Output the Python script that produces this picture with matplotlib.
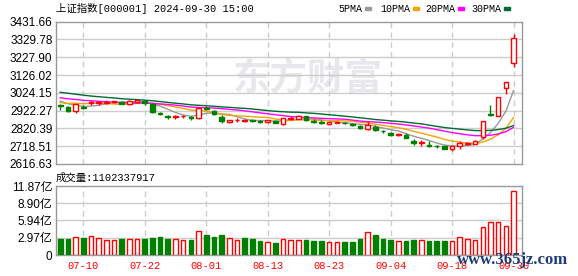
import numpy as np
import pandas as pd
import matplotlib
matplotlib.use('Agg')
import matplotlib.pyplot as plt
from matplotlib.patches import Rectangle

dates = ['07-05', '07-08', '07-09', '07-10', '07-11', '07-12', '07-15', '07-16', '07-17', '07-18',
         '07-19', '07-22', '07-23', '07-24', '07-25', '07-26', '07-29', '07-30', '07-31', '08-01',
         '08-02', '08-05', '08-06', '08-07', '08-08', '08-09', '08-12', '08-13', '08-14', '08-15',
         '08-16', '08-19', '08-20', '08-21', '08-22', '08-23', '08-26', '08-27', '08-28', '08-29',
         '08-30', '09-02', '09-03', '09-04', '09-05', '09-06', '09-09', '09-10', '09-11', '09-12',
         '09-13', '09-18', '09-19', '09-20', '09-23', '09-24', '09-25', '09-26', '09-27', '09-30']

opens = [2955, 2942, 2920, 2945, 2964, 2967, 2966, 2971, 2972, 2960,
         2973, 2978, 2958, 2906, 2890, 2883, 2889, 2884, 2879, 2935,
         2921, 2886, 2857, 2866, 2863, 2867, 2862, 2856, 2863, 2845,
         2872, 2876, 2890, 2864, 2858, 2843, 2852, 2853, 2846, 2834,
         2819, 2829, 2806, 2792, 2783, 2784, 2750, 2738, 2727, 2722,
         2717, 2704, 2718, 2733, 2733, 2771, 2901, 2893, 3050, 3195]
highs = [2958, 2948, 2961, 2954, 2976, 2979, 2981, 2980, 2980, 2985,
         2986, 2983, 2966, 2916, 2900, 2897, 2899, 2891, 2941, 2946,
         2924, 2896, 2871, 2880, 2874, 2876, 2869, 2871, 2870, 2880,
         2890, 2895, 2892, 2875, 2868, 2860, 2865, 2858, 2851, 2839,
         2863, 2838, 2813, 2800, 2796, 2793, 2757, 2752, 2747, 2728,
         2720, 2720, 2747, 2743, 2753, 2863.13, 2952, 3000.95, 3087.53, 3358.59]
lows = [2925, 2917, 2907, 2932, 2957, 2955, 2963, 2965, 2958, 2955,
        2966, 2957, 2911, 2895, 2877, 2877, 2882, 2871, 2877, 2925,
        2896, 2851, 2851, 2860, 2858, 2859, 2852, 2851, 2849, 2840,
        2869, 2873, 2865, 2852, 2846, 2841, 2850, 2845, 2833, 2815,
        2812, 2808, 2794, 2779, 2779, 2764, 2726, 2717, 2716, 2711,
        2702, 2689, 2702, 2725, 2730, 2761, 2889, 2889, 3017, 3170]
closes = [2949.93, 2922.45, 2959.37, 2939.36, 2970.39, 2971.30, 2974.01, 2976.30, 2962.92, 2977.13,
          2982.31, 2964.22, 2915.37, 2901.95, 2886.74, 2890.90, 2891.85, 2879.30, 2938.75, 2932.39,
          2905.34, 2860.70, 2867.28, 2869.90, 2869.83, 2862.19, 2858.20, 2867.95, 2850.65, 2877.36,
          2879.43, 2893.67, 2866.66, 2856.58, 2848.77, 2854.37, 2855.52, 2848.73, 2837.43, 2823.11,
          2842.21, 2811.04, 2802.98, 2784.28, 2788.22, 2765.81, 2736.49, 2744.19, 2721.80, 2717.12,
          2704.09, 2717.28, 2736.02, 2736.81, 2748.92, 2863.13, 2896.31, 3000.95, 3087.53, 3336.50]
# closes before 07-05, only used for the moving averages
pre_closes = [3088.87, 3124.04, 3109.57, 3111.02, 3091.68, 3086.81,
              3078.49, 3091.20, 3065.40, 3048.79, 3051.28, 3028.05, 3037.47, 3028.92, 3032.63,
              3015.89, 3030.25, 3018.05, 3005.44, 2998.14, 2963.10, 2950.00, 2972.53, 2945.85,
              2967.40, 2994.73, 2997.01, 2982.38, 2957.57]
# volume in 亿
volumes = [2.74, 2.74, 3.03, 2.91, 3.20, 2.86, 2.57, 2.57, 2.74, 2.74,
           2.74, 2.74, 2.91, 3.09, 2.74, 2.69, 2.57, 2.57, 4.11, 3.49,
           3.14, 3.49, 2.91, 2.63, 2.91, 2.74, 2.46, 2.23, 2.11, 2.74,
           2.57, 2.57, 2.57, 2.34, 2.40, 2.23, 2.23, 2.23, 2.23, 2.74,
           3.89, 3.43, 2.74, 2.57, 2.40, 2.40, 2.57, 2.57, 2.40, 2.40,
           2.40, 2.40, 3.03, 2.69, 2.57, 4.74, 5.60, 5.60, 4.91, 11.02337917]

price_ticks = [2616.63, 2718.51, 2820.39, 2922.27, 3024.15, 3126.02, 3227.90, 3329.78, 3431.66]
vol_ticks = [0, 2.97, 5.94, 8.90, 11.87]
vol_labels = ['0', '2.97亿', '5.94亿', '8.90亿', '11.87亿']
ma_names = ['5PMA', '10PMA', '20PMA', '30PMA']
ma_windows = [5, 10, 20, 30]
ma_colors = ['#999999', '#f5a300', '#ff00ff', '#006a32']

RED = '#ff0000'
GREEN = '#008000'
GRID = '#cccccc'
MONO = ['Liberation Mono', 'Noto Sans CJK SC']
SANS = ['Liberation Sans', 'Noto Sans CJK SC']

n = len(closes)
x = np.arange(n)
all_closes = pd.Series(pre_closes + closes)

fig = plt.figure(figsize=(5.78, 2.76), dpi=100)
W, H = 578, 276
ax = fig.add_axes([56 / W, 1 - 164 / H, 466 / W, 142.3 / H])
axv = fig.add_axes([56 / W, 1 - 255 / H, 466 / W, 69 / H])

# watermark
ax.text(0.54, 0.6, '东方财富', transform=ax.transAxes, fontsize=27, color='#e8e8ec',
        family=['Noto Sans CJK SC'], weight='bold', ha='center', va='center', zorder=0)

for i in range(len(ma_windows)):
    ma = all_closes.rolling(ma_windows[i]).mean().values[-n:]
    ax.plot(x, ma, color=ma_colors[i], lw=1, zorder=2)

for i in range(n):
    up = closes[i] >= opens[i]
    c = RED if up else GREEN
    ax.vlines(x[i], lows[i], highs[i], color=c, lw=1, zorder=3)
    bottom = min(opens[i], closes[i])
    h = abs(closes[i] - opens[i])
    ax.bar(x[i], h, bottom=bottom, width=0.6, facecolor='white' if up else GREEN,
           edgecolor=c, lw=1, zorder=4)

for i in range(n):
    up = closes[i] >= (closes[i - 1] if i > 0 else pre_closes[-1])
    axv.bar(x[i], volumes[i], width=0.6, facecolor='white' if up else GREEN,
            edgecolor=RED if up else GREEN, lw=1, zorder=3)

date_idx = list(range(3, n, 8))
for a in (ax, axv):
    a.set_xlim(-0.55, 60.1)
    a.set_xticks(date_idx)
    for t in date_idx:
        a.axvline(t, color=GRID, lw=1, ls=(0, (4, 3)), zorder=1)
    for s in a.spines.values():
        s.set_color('#999999')
        s.set_linewidth(1)
    a.tick_params(length=0)

ax.set_ylim(price_ticks[0], price_ticks[-1])
ax.set_yticks(price_ticks)
ax.set_yticklabels(['%.2f' % v for v in price_ticks], family=SANS, fontsize=8.5)
ax.set_xticklabels([])
ax.tick_params(axis='y', pad=2.5)
for v in price_ticks[1:-1]:
    ax.axhline(v, color=GRID, lw=1, zorder=1)

axv.set_ylim(0, 11.87)
axv.set_yticks(vol_ticks)
axv.set_yticklabels(vol_labels, family=SANS, fontsize=8.5)
axv.set_xticklabels([dates[i] for i in date_idx], family=MONO, fontsize=7.5, color=RED)
axv.tick_params(axis='y', pad=2.5)
axv.tick_params(axis='x', pad=4)
for v in vol_ticks[1:-1]:
    axv.axhline(v, color=GRID, lw=1, zorder=1)

fig.text(56 / W, 1 - 8.7 / H, '上证指数[000001] 2024-09-30 15:00', family=MONO, fontsize=7.5,
         ha='left', va='center')
fig.text(56 / W, 1 - 177.3 / H, '成交量:1102337917', family=MONO, fontsize=7.5,
         ha='left', va='center')

leg_x = [338, 380, 425, 471]
for i in range(len(ma_names)):
    t = fig.text(leg_x[i] / W, 1 - 8.7 / H, ma_names[i], family=MONO, fontsize=7.2,
                 ha='left', va='center')
    fig.canvas.draw()
    bb = t.get_window_extent()
    fig.patches.append(Rectangle(((bb.x1 + 3) / W, 1 - 10.2 / H), 6 / W, 3 / H,
                                 transform=fig.transFigure, color=ma_colors[i]))

fig.text(513 / W, 1 - 260.5 / H, 'www.365jz.com', family=['Liberation Serif'], weight='bold',
         fontsize=12, color='#1f3c78', ha='center', va='center')

plt.savefig('out.png', dpi=100)
